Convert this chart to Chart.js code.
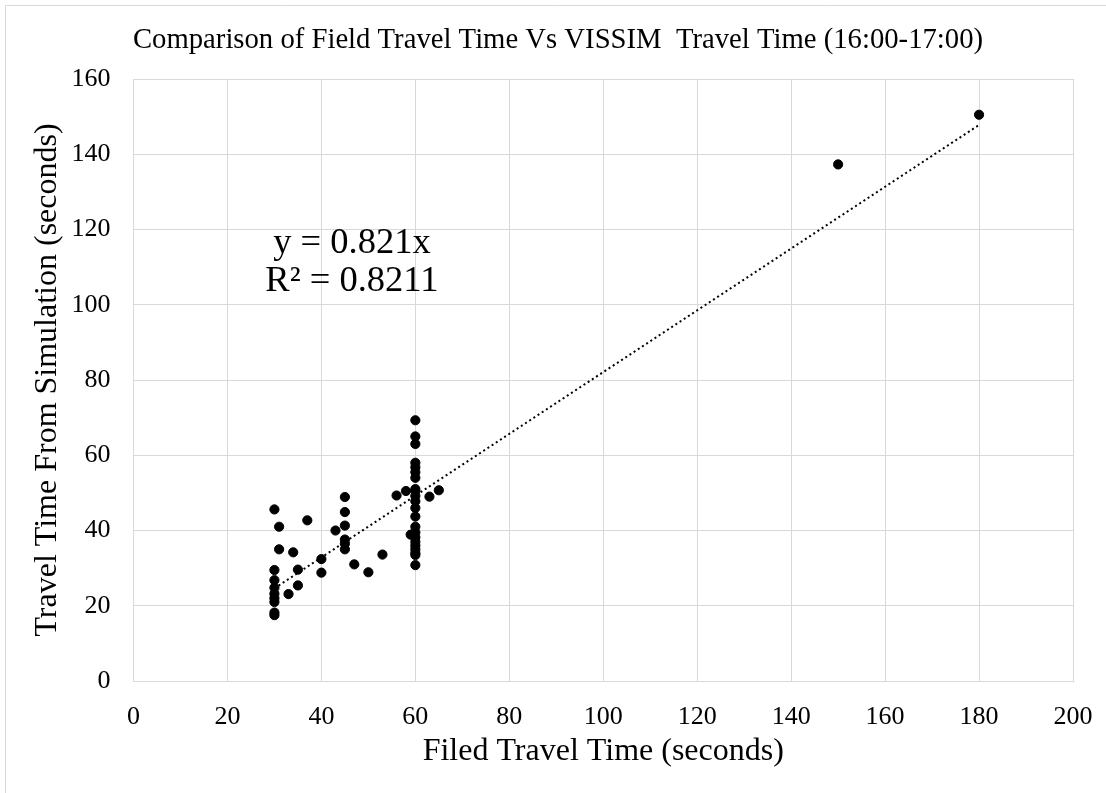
<!DOCTYPE html>
<html>
<head>
<meta charset="utf-8">
<title>Field vs VISSIM travel time</title>
<script src="https://cdn.jsdelivr.net/npm/chart.js@4/dist/chart.umd.min.js"></script>
<style>
  html, body { margin: 0; padding: 0; background: #fff; }
  #wrap { width: 1106px; height: 793px; }
</style>
</head>
<body>
<div id="wrap"><canvas id="travelChart" width="1106" height="793"></canvas></div>
<script>
// field travel time (s) and matching VISSIM travel time (s), pair by pair
const fieldTimes = [
  30, 30, 30, 30, 30, 30, 30, 30, 30,
  31, 31, 33, 34, 35, 35, 37, 40, 40, 43,
  45, 45, 45, 45, 45, 45, 47, 50, 53, 56, 58, 59,
  60, 60, 60, 60, 60, 60, 60, 60, 60, 60, 60,
  60, 60, 60, 60, 60, 60, 60, 60, 60, 60, 60,
  63, 65, 150, 180
];
const simTimes = [
  45.6, 29.5, 26.8, 24.8, 23.2, 22.0, 21.0, 18.2, 17.5,
  41.0, 35.0, 23.1, 34.2, 29.6, 25.4, 42.7, 32.4, 28.8, 40.0,
  48.9, 44.9, 41.3, 37.6, 36.5, 35.0, 31.0, 28.9, 33.6, 49.3, 50.5, 38.9,
  69.3, 65.0, 63.0, 58.0, 56.8, 55.5, 54.0, 51.0, 50.5, 49.2, 47.8,
  46.0, 43.7, 41.0, 39.5, 38.2, 37.0, 36.0, 35.0, 34.0, 33.5, 30.8,
  49.0, 50.7, 137.3, 150.5
];

// linear fit through the origin, as given in the chart
const trendSlope = 0.821;
const rSquared = 0.8211;

const xTicks = [0, 20, 40, 60, 80, 100, 120, 140, 160, 180, 200];
const yTicks = [0, 20, 40, 60, 80, 100, 120, 140, 160];

const chartTitle = 'Comparison of Field Travel Time Vs VISSIM  Travel Time (16:00-17:00)';

const serif = "'Liberation Serif', 'Times New Roman', serif";
const gridGray = '#d9d9d9';

const points = fieldTimes.map((x, i) => ({ x: x, y: simTimes[i] }));
const xMin = Math.min(...fieldTimes);
const xMax = Math.max(...fieldTimes);
const trendPoints = [
  { x: xMin, y: trendSlope * xMin },
  { x: xMax, y: trendSlope * xMax }
];

// frame on the top and left edge, the title, and the fit equation
const extras = {
  id: 'extras',
  beforeDraw(chart) {
    const ctx = chart.ctx;
    ctx.save();
    ctx.strokeStyle = gridGray;
    ctx.lineWidth = 1;
    ctx.beginPath();
    ctx.moveTo(5.5, 793);
    ctx.lineTo(5.5, 5.5);
    ctx.lineTo(1106, 5.5);
    ctx.stroke();

    ctx.fillStyle = '#000';
    ctx.font = '28.7px ' + serif;
    ctx.textAlign = 'center';
    ctx.textBaseline = 'middle';
    ctx.fillText(chartTitle, 558, 40);
    ctx.restore();
  },
  afterDatasetsDraw(chart) {
    const { ctx, scales } = chart;
    const cx = scales.x.getPixelForValue(46.5);
    ctx.save();
    ctx.fillStyle = '#000';
    ctx.font = '36.5px ' + serif;
    ctx.textAlign = 'center';
    ctx.textBaseline = 'middle';
    ctx.fillText('y = ' + trendSlope + 'x', cx, scales.y.getPixelForValue(116.2));
    ctx.fillText('R\u00b2 = ' + rSquared, cx, scales.y.getPixelForValue(106.2));
    ctx.restore();
  }
};

new Chart(document.getElementById('travelChart'), {
  type: 'scatter',
  data: {
    datasets: [
      {
        label: 'Travel time',
        data: points,
        backgroundColor: '#000',
        borderColor: '#000',
        pointRadius: 4.6,
        pointHoverRadius: 4.6
      },
      {
        type: 'line',
        label: 'Linear fit',
        data: trendPoints,
        borderColor: '#000',
        borderWidth: 2,
        borderDash: [2, 3],
        pointRadius: 0,
        fill: false
      }
    ]
  },
  options: {
    responsive: false,
    animation: false,
    layout: { padding: { left: 5.5, right: 33, top: 79, bottom: 0 } },
    plugins: {
      legend: { display: false },
      tooltip: { enabled: false },
      title: { display: false }
    },
    scales: {
      x: {
        type: 'linear',
        min: 0,
        max: 200,
        afterBuildTicks: s => { s.ticks = xTicks.map(v => ({ value: v })); },
        afterFit: s => { s.height = 112; s.paddingLeft = 0; s.paddingRight = 0; },
        ticks: { color: '#000', padding: 21, font: { family: serif, size: 26 } },
        grid: { color: gridGray, drawTicks: false },
        border: { color: gridGray },
        title: {
          display: true,
          text: 'Filed Travel Time (seconds)',
          color: '#000',
          font: { family: serif, size: 32 },
          padding: { top: 22, bottom: 22 }
        }
      },
      y: {
        type: 'linear',
        min: 0,
        max: 160,
        afterBuildTicks: s => { s.ticks = yTicks.map(v => ({ value: v })); },
        afterFit: s => { s.width = 128; s.paddingTop = 0; s.paddingBottom = 0; },
        ticks: { color: '#000', padding: 23, font: { family: serif, size: 26 } },
        grid: { color: gridGray, drawTicks: false },
        border: { color: gridGray },
        title: {
          display: true,
          text: 'Travel Time From Simulation (seconds)',
          color: '#000',
          font: { family: serif, size: 32 },
          padding: { top: 23, bottom: 23 }
        }
      }
    }
  },
  plugins: [extras]
});
</script>
</body>
</html>
